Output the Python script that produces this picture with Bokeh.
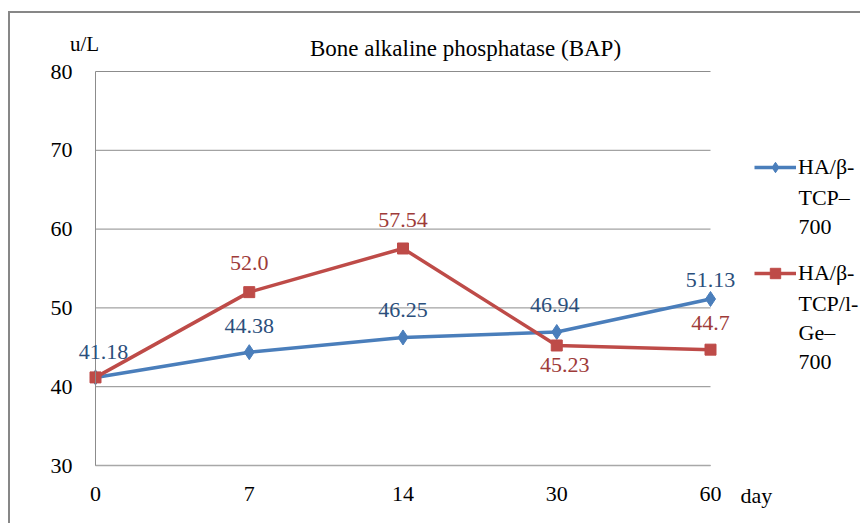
from bokeh.plotting import figure
from bokeh.models import (Range1d, FixedTicker, Label, LabelSet, ColumnDataSource,
                          Legend, LegendItem)
from bokeh.embed import file_html
from bokeh.resources import INLINE

# ---------------- data ----------------
days = ["0", "7", "14", "30", "60"]
ha_tcp = [41.18, 44.38, 46.25, 46.94, 51.13]
ha_tcp_ge = [41.18, 52.0, 57.54, 45.23, 44.7]
ha_tcp_text = ["41.18", "44.38", "46.25", "46.94", "51.13"]
ha_tcp_ge_text = ["", "52.0", "57.54", "45.23", "44.7"]
y_ticks = [30, 40, 50, 60, 70, 80]
# legend names, wrapped as in the original
series_names = [["HA/β-", "TCP–", "700"], ["HA/β-", "TCP/l-", "Ge–", "700"]]
title_text = "Bone alkaline phosphatase (BAP)"
y_unit = "u/L"
x_unit = "day"

# ---------------- styling / layout ----------------
FONT = "'Liberation Serif', 'Times New Roman', serif"
BLUE = "#4A7EBB"
RED = "#BE4B48"
BLUE_TXT = "#2B4F7C"
RED_TXT = "#9E3B39"
GRID = "#8c8c8c"
W, H = 860, 523
# plot-area placement in pixels (left, right, top, bottom)
PL, PR, PT, PB = 95, 710, 71, 465
blue_dx = [8, 0, 0, -2, 0]
blue_dy = [25, 26, 27, 27, 19]
red_dx = [0, 0, 0, 8, 0]
red_dy = [0, 29, 28, -20, 27]
LEG_X = 798                       # left of legend texts
LEG_FIRST = [167, 273]            # first line centre of each legend entry
LEG_LINE = 29.5                   # line spacing of wrapped legend text

xs = list(range(len(days)))
n = len(days) - 1
ux = (PR - PL) / n
uy = (PB - PT) / (y_ticks[-1] - y_ticks[0])
x_range = Range1d(-PL / ux, n + (W - PR) / ux)
y_range = Range1d(y_ticks[0] - (H - PB) / uy, y_ticks[-1] + PT / uy)

p = figure(width=W, height=H, x_range=x_range, y_range=y_range,
           output_backend="svg", toolbar_location=None,
           min_border_left=0, min_border_right=0, min_border_top=0, min_border_bottom=0)
p.outline_line_color = None
p.border_fill_color = None
p.background_fill_color = None
p.styles = {"box-shadow": "inset 0 11px 0 0 #ffffff, inset 8px 0 0 0 #ffffff, "
                          "inset 10px 0 0 0 #878787, inset 0 13px 0 0 #878787"}

# y axis (placed at the first category)
p.yaxis.fixed_location = xs[0]
p.yaxis.bounds = (y_ticks[0], y_ticks[-1])
p.yaxis.ticker = FixedTicker(ticks=y_ticks)
p.yaxis.major_tick_line_color = None
p.yaxis.minor_tick_line_color = None
p.yaxis.axis_line_color = GRID
p.yaxis.major_label_text_font = FONT
p.yaxis.major_label_text_font_size = "22px"
p.yaxis.major_label_text_color = "black"
p.yaxis.major_label_standoff = 17

# x axis (placed at the lowest y tick)
p.xaxis.fixed_location = y_ticks[0]
p.xaxis.bounds = (xs[0], xs[-1])
p.xaxis.ticker = FixedTicker(ticks=xs)
p.xaxis.major_label_overrides = {i: d for i, d in enumerate(days)}
p.xaxis.major_tick_line_color = None
p.xaxis.minor_tick_line_color = None
p.xaxis.axis_line_color = "#a8a8a8"
p.xaxis.axis_line_width = 1.5
p.xaxis.major_label_text_font = FONT
p.xaxis.major_label_text_font_size = "22px"
p.xaxis.major_label_text_color = "black"
p.xaxis.major_label_standoff = 15

p.xgrid.grid_line_color = None
p.ygrid.grid_line_color = None
# horizontal grid lines limited to the plot area
p.segment(x0=[xs[0]] * len(y_ticks), x1=[xs[-1]] * len(y_ticks), y0=y_ticks, y1=y_ticks,
          line_color=GRID, line_width=1)

src_b = ColumnDataSource(dict(x=xs, y=ha_tcp, t=ha_tcp_text, dx=blue_dx, dy=blue_dy))
src_r = ColumnDataSource(dict(x=xs, y=ha_tcp_ge, t=ha_tcp_ge_text, dx=red_dx, dy=red_dy))

lb = p.line("x", "y", source=src_b, line_color=BLUE, line_width=3.5)
mb = p.scatter("x", "y", source=src_b, marker="diamond", size=15, fill_color=BLUE, line_color=BLUE)
lr = p.line("x", "y", source=src_r, line_color=RED, line_width=3.5)
mr = p.scatter("x", "y", source=src_r, marker="square", size=11, fill_color=RED, line_color=RED)

p.add_layout(LabelSet(x="x", y="y", text="t", source=src_b, x_offset="dx", y_offset="dy",
                      text_align="center", text_baseline="middle", text_font=FONT,
                      text_font_size="22px", text_color=BLUE_TXT))
p.add_layout(LabelSet(x="x", y="y", text="t", source=src_r, x_offset="dx", y_offset="dy",
                      text_align="center", text_baseline="middle", text_font=FONT,
                      text_font_size="22px", text_color=RED_TXT))

item_h = 26
legend = Legend(items=[LegendItem(label=series_names[0][0], renderers=[lb, mb]),
                       LegendItem(label=series_names[1][0], renderers=[lr, mr])],
                location=(LEG_X - 44, H - (LEG_FIRST[1] + item_h / 2)), padding=0, margin=0,
                border_line_color=None, background_fill_alpha=0, glyph_width=42,
                glyph_height=item_h, label_height=item_h, label_standoff=2,
                spacing=LEG_FIRST[1] - LEG_FIRST[0] - item_h,
                label_text_font=FONT, label_text_font_size="22px", label_text_color="black")
p.add_layout(legend, "center")

for first, lines in zip(LEG_FIRST, series_names):
    for k, line_txt in enumerate(lines[1:], start=1):
        p.add_layout(Label(x=LEG_X, y=H - (first + k * LEG_LINE), x_units="screen", y_units="screen",
                           text=line_txt, text_align="left", text_baseline="middle",
                           text_font=FONT, text_font_size="22px", text_color="black"))

p.add_layout(Label(x=465, y=H - 48, x_units="screen", y_units="screen", text=title_text,
                   text_align="center", text_baseline="middle", text_font=FONT,
                   text_font_size="23px", text_color="black"))
p.add_layout(Label(x=84, y=H - 43, x_units="screen", y_units="screen", text=y_unit,
                   text_align="center", text_baseline="middle", text_font=FONT,
                   text_font_size="21px", text_color="black"))
p.add_layout(Label(x=740, y=H - 495, x_units="screen", y_units="screen", text=x_unit,
                   text_align="left", text_baseline="middle", text_font=FONT,
                   text_font_size="22px", text_color="black"))

open("out.html", "w").write(file_html(p, INLINE))
